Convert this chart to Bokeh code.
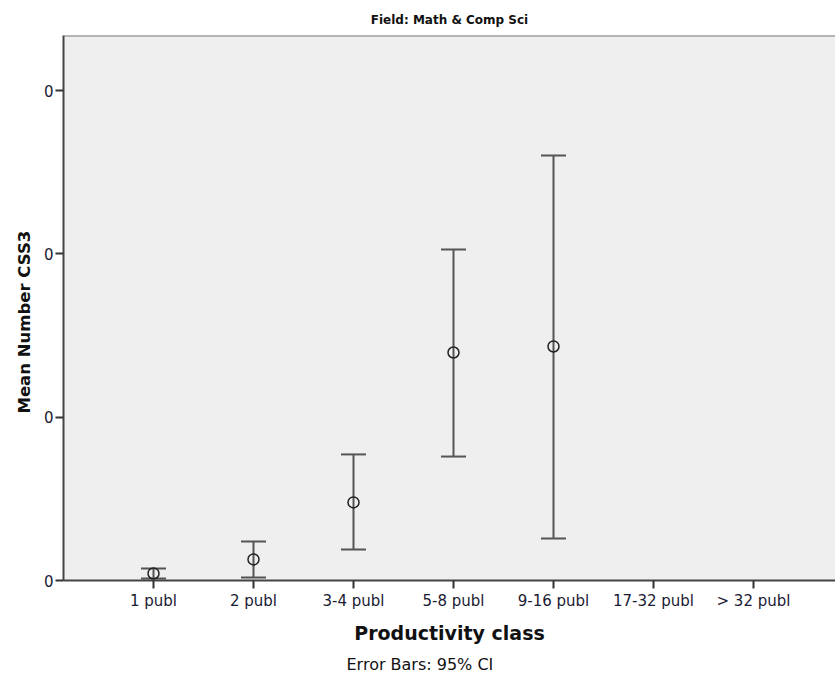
from bokeh.plotting import figure
from bokeh.models import (ColumnDataSource, Whisker, TeeHead, FixedTicker, Range1d,
                          Title, Span)
from bokeh.embed import file_html
from bokeh.resources import INLINE

categories = ["1 publ", "2 publ", "3-4 publ", "5-8 publ", "9-16 publ", "17-32 publ", "> 32 publ"]
# means and 95% CI bounds (axis units; tick labels are all shown as "0" in the original)
mean_cats = ["1 publ", "2 publ", "3-4 publ", "5-8 publ", "9-16 publ"]
means = [0.043, 0.129, 0.478, 1.396, 1.433]
lower = [0.012, 0.018, 0.190, 0.759, 0.257]
upper = [0.073, 0.239, 0.772, 2.027, 2.603]
y_ticks = [0, 1, 2, 3]
y_tick_labels = ["0", "0", "0", "0"]

FONT = "DejaVu Sans"
pos = {c: i + 1 for i, c in enumerate(categories)}
xs = [pos[c] for c in mean_cats]
src = ColumnDataSource(dict(x=xs, mean=means, lower=lower, upper=upper))

Y_END = 3.337
p = figure(width=835, height=684, output_backend="svg", toolbar_location=None,
           x_range=Range1d(0.1, 7.82), y_range=Range1d(0, Y_END),
           min_border_left=63, min_border_right=0, min_border_top=35, min_border_bottom=104)

p.background_fill_color = "#efefef"
p.border_fill_color = "white"
p.outline_line_color = None
p.grid.visible = False

p.title.text = "Field: Math & Comp Sci"
p.title.align = "center"
p.title.text_font = FONT
p.title.text_font_size = "12px"
p.title.text_font_style = "bold"
p.title.text_color = "#111111"
p.title.standoff = 18

p.add_layout(Span(location=Y_END, dimension="width", line_color="#777777", line_width=2))

note = Title(text="Error Bars: 95% CI", align="left", text_font=FONT,
             text_font_size="16px", text_font_style="normal", text_color="#111111",
             standoff=17, offset=283, vertical_align="top")
p.add_layout(note, "below")

ylab = Title(text="Mean Number CSS3", align="left", text_font=FONT,
             text_font_size="16.5px", text_font_style="bold", text_color="#111111",
             standoff=13, offset=167)
p.add_layout(ylab, "left")

# axes
p.xaxis.ticker = FixedTicker(ticks=list(pos.values()))
p.xaxis.major_label_overrides = {v: k for k, v in pos.items()}
p.yaxis.ticker = FixedTicker(ticks=y_ticks)
p.yaxis.major_label_overrides = dict(zip(y_ticks, y_tick_labels))
for ax in (p.xaxis, p.yaxis):
    ax.axis_line_color = "#444444"
    ax.axis_line_width = 2
    ax.major_tick_line_color = "#333333"
    ax.major_tick_line_width = 2
    ax.major_tick_in = 0
    ax.major_tick_out = 8
    ax.minor_tick_line_color = None
    ax.major_label_text_font = FONT
    ax.major_label_text_color = "#1a1a33"
    ax.major_label_text_font_size = "15px"
p.xaxis.axis_label = "Productivity class"
p.xaxis.axis_label_text_font = FONT
p.xaxis.axis_label_text_font_style = "bold"
p.xaxis.axis_label_text_color = "#111111"
p.xaxis.axis_label_text_font_size = "19px"
p.xaxis.major_label_standoff = 3
p.yaxis.major_label_standoff = 2
p.xaxis.axis_label_standoff = 9

w = Whisker(source=src, base="x", upper="upper", lower="lower", dimension="height",
            line_color="#555555", line_width=2,
            upper_head=TeeHead(size=25, line_color="#555555", line_width=2),
            lower_head=TeeHead(size=25, line_color="#555555", line_width=2))
p.add_layout(w)
p.scatter("x", "mean", source=src, size=11, marker="circle", fill_color=None,
          line_color="#222222", line_width=1.5)

open("out.html", "w").write(file_html(p, INLINE))
